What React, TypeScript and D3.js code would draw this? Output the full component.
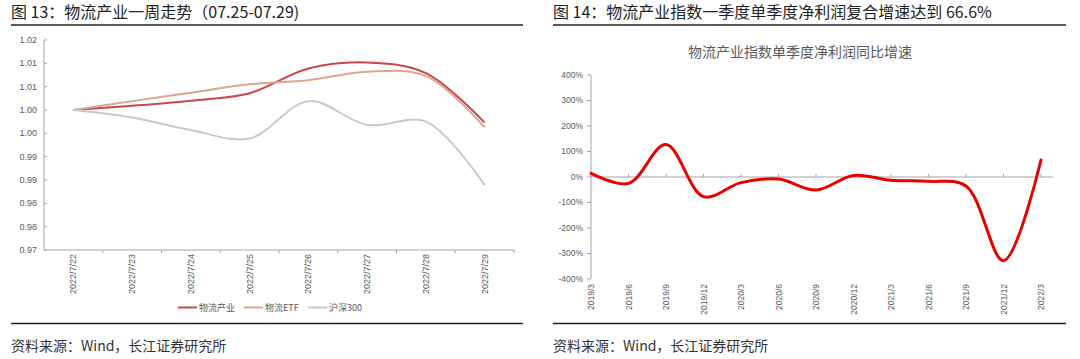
import React from "react";
import * as d3 from "d3";

// 图13：一周走势
const dates = ["2022/7/22", "2022/7/23", "2022/7/24", "2022/7/25", "2022/7/26", "2022/7/27", "2022/7/28", "2022/7/29"];
const wuliu = [1.0, 1.0009, 1.002, 1.0036, 1.0089, 1.0102, 1.0079, 0.9973];
const wuliuEtf = [1.0, 1.0019, 1.0037, 1.0055, 1.0064, 1.0082, 1.0073, 0.9963];
const hs300 = [1.0, 0.9984, 0.9957, 0.9939, 1.0019, 0.9968, 0.9975, 0.9839];
const leftTicks = [0.97, 0.975, 0.98, 0.985, 0.99, 0.995, 1.0, 1.005, 1.01, 1.015];
const leftTickLabels = ["0.97", "0.98", "0.98", "0.99", "0.99", "1.00", "1.00", "1.01", "1.01", "1.02"];

// 图14：单季度净利润同比增速 (%)
const quarters = ["2019/3", "2019/6", "2019/9", "2019/12", "2020/3", "2020/6", "2020/9", "2020/12", "2021/3", "2021/6", "2021/9", "2021/12", "2022/3"];
const growth = [14, -25, 127, -77, -22, -8, -51, 6, -13, -17, -35, -328, 66.6];
const rightTicks = [-400, -300, -200, -100, 0, 100, 200, 300, 400];

const FONT = "'Liberation Sans', 'Noto Sans CJK SC', sans-serif";
const CJK = "'Noto Sans CJK SC', 'Liberation Sans', sans-serif";
const AXIS = "#a6a6a6";
const LABEL = "#595959";

const LeftChart = () => {
  const x = d3.scaleBand().domain(dates).range([44, 514]).padding(0);
  const y = d3.scaleLinear().domain([0.97, 1.015]).range([250, 40]);
  const cx = (d: string) => (x(d) as number) + x.bandwidth() / 2;
  const line = d3.line<number>()
    .x((_, i) => cx(dates[i]))
    .y(v => y(v))
    .curve(d3.curveCatmullRom.alpha(0.5));

  const series = [
    { name: "物流产业", values: wuliu, color: "#c9474a" },
    { name: "物流ETF", values: wuliuEtf, color: "#dba58f" },
    { name: "沪深300", values: hs300, color: "#c9c9c9" },
  ];
  const legendX = [178, 244, 308];

  return (
    <g>
      {/* axes */}
      <line x1={44} x2={44} y1={40} y2={250} stroke={AXIS} />
      <line x1={44} x2={514} y1={250} y2={250} stroke={AXIS} />
      {leftTicks.map((t, i) => (
        <g key={t}>
          <line x1={44} x2={47} y1={y(t)} y2={y(t)} stroke={AXIS} />
          <text x={37} y={y(t)} dy="0.35em" textAnchor="end" fontSize={9} fill={LABEL} fontFamily={FONT}>
            {leftTickLabels[i]}
          </text>
        </g>
      ))}
      {dates.map(d => (
        <g key={d}>
          <line x1={(x(d) as number) + x.bandwidth()} x2={(x(d) as number) + x.bandwidth()} y1={250} y2={253} stroke={AXIS} />
          <text transform={`translate(${cx(d) + 3},${254}) rotate(-90)`} textAnchor="end" fontSize={9} fill={LABEL} fontFamily={FONT}>
            {d}
          </text>
        </g>
      ))}
      {series.map(s => (
        <path key={s.name} d={line(s.values) as string} fill="none" stroke={s.color} strokeWidth={2} />
      ))}
      {series.map((s, i) => (
        <g key={s.name + "lg"}>
          <line x1={legendX[i]} x2={legendX[i] + 19} y1={307.5} y2={307.5} stroke={s.color} strokeWidth={2} />
          <text x={legendX[i] + 21} y={307.5} dy="0.35em" fontSize={9} fill={LABEL} fontFamily={CJK}>
            {s.name}
          </text>
        </g>
      ))}
    </g>
  );
};

const RightChart = () => {
  const x = d3.scalePoint().domain(quarters).range([591, 1041]);
  const y = d3.scaleLinear().domain([-400, 400]).range([279, 75]);
  const line = d3.line<number>()
    .x((_, i) => x(quarters[i]) as number)
    .y(v => y(v))
    .curve(d3.curveCatmullRom.alpha(0.5));

  return (
    <g>
      <text x={800} y={57} textAnchor="middle" fontSize={14} fill={LABEL} fontFamily={CJK}>
        物流产业指数单季度净利润同比增速
      </text>
      <line x1={591} x2={591} y1={75} y2={279} stroke={AXIS} />
      <line x1={591} x2={1053} y1={y(0)} y2={y(0)} stroke={AXIS} strokeWidth={1.2} />
      {rightTicks.map(t => (
        <g key={t}>
          <line x1={587} x2={591} y1={y(t)} y2={y(t)} stroke={AXIS} />
          <text x={583} y={y(t)} dy="0.35em" textAnchor="end" fontSize={8.5} fill={LABEL} fontFamily={FONT}>
            {t + "%"}
          </text>
        </g>
      ))}
      {quarters.map(q => (
        <g key={q}>
          <line x1={x(q) as number} x2={x(q) as number} y1={y(0) - 3} y2={y(0)} stroke={AXIS} />
          <text transform={`translate(${(x(q) as number) + 3},${284}) rotate(-90)`} textAnchor="end" fontSize={8.5} fill={LABEL} fontFamily={FONT}>
            {q}
          </text>
        </g>
      ))}
      <path d={line(growth) as string} fill="none" stroke="#e60000" strokeWidth={3} strokeLinecap="round" />
    </g>
  );
};

const App = () => {
  return (
    <div style={{ position: "absolute", left: 0, top: 0 }}>
      <svg width={1080} height={359} style={{ display: "block", background: "#fff" }}>
        <text x={11} y={18} fontSize={16} fill="#222" fontFamily={CJK}>图 13：物流产业一周走势（07.25-07.29)</text>
        <line x1={11} x2={523} y1={25} y2={25} stroke="#222" strokeWidth={1.5} />
        <text x={553} y={18} fontSize={16} fill="#222" fontFamily={CJK}>图 14：物流产业指数一季度单季度净利润复合增速达到 66.6%</text>
        <line x1={553} x2={1066} y1={25} y2={25} stroke="#222" strokeWidth={1.5} />

        <LeftChart />
        <RightChart />

        <line x1={11} x2={523} y1={323.5} y2={323.5} stroke="#222" strokeWidth={1.5} />
        <line x1={553} x2={1066} y1={323.5} y2={323.5} stroke="#222" strokeWidth={1.5} />
        <text x={11} y={351} fontSize={14} fill="#333" fontFamily={CJK}>资料来源：Wind，长江证券研究所</text>
        <text x={553} y={351} fontSize={14} fill="#333" fontFamily={CJK}>资料来源：Wind，长江证券研究所</text>
      </svg>
    </div>
  );
};

export default App;
